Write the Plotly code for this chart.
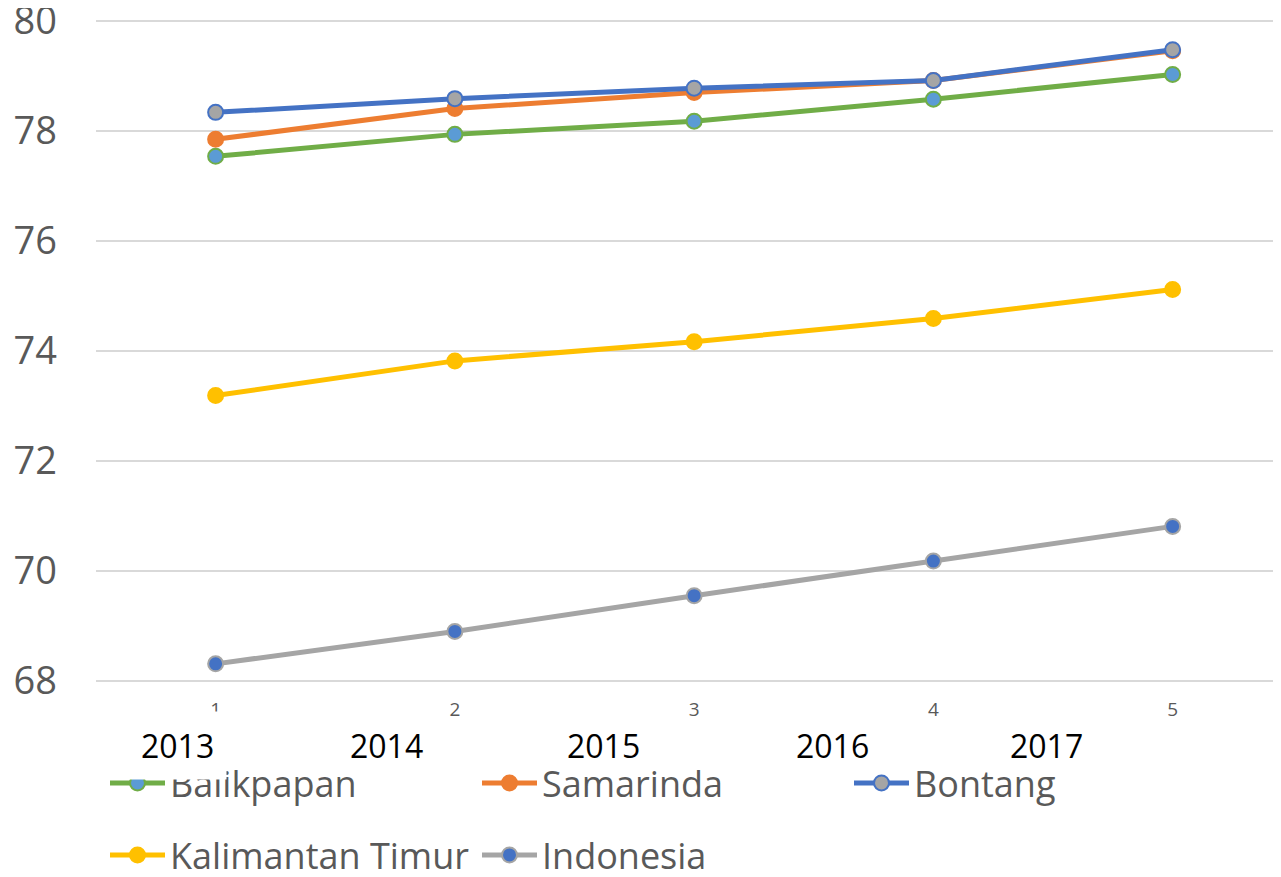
import plotly.graph_objects as go

# ---- data ----
x_index = [1, 2, 3, 4, 5]
tick_labels = ["1", "2", "3", "4", "5"]
years = ["2013", "2014", "2015", "2016", "2017"]
year_label_paper_x = [0.0687, 0.2439, 0.4258, 0.617, 0.797]

series_names = ["Balikpapan", "Samarinda", "Bontang", "Kalimantan Timur", "Indonesia"]
balikpapan = [77.54, 77.94, 78.18, 78.58, 79.03]
samarinda = [77.85, 78.41, 78.70, 78.92, 79.46]
bontang = [78.34, 78.59, 78.78, 78.92, 79.48]
kaltim = [73.19, 73.82, 74.17, 74.59, 75.12]
indonesia = [68.31, 68.90, 69.55, 70.18, 70.81]

values = [balikpapan, samarinda, bontang, kaltim, indonesia]
line_colors = ["#70AD47", "#ED7D31", "#4472C4", "#FFC000", "#A5A5A5"]
marker_fill = ["#5B9BD5", "#ED7D31", "#A5A5A5", "#FFC000", "#4472C4"]
marker_edge = ["#70AD47", "#ED7D31", "#4472C4", "#FFC000", "#A5A5A5"]
legend_ids = ["legend", "legend", "legend", "legend2", "legend2"]

W, H = 1289, 885
L, T, B = 88, 11.6, 211.2
R = 0
plot_h = H - T - B
plot_w = W - L - R

fig = go.Figure()
for name, vals, lc, mf, me, lg in zip(series_names, values, line_colors,
                                      marker_fill, marker_edge, legend_ids):
    fig.add_trace(go.Scatter(
        x=x_index, y=vals, name=name, mode="lines+markers",
        line=dict(color=lc, width=5),
        marker=dict(size=15, color=mf, line=dict(color=me, width=2)),
        legend=lg,
    ))

for i, (yr, px) in enumerate(zip(years, year_label_paper_x)):
    fig.add_annotation(
        x=px * 1193 / plot_w, y=(H - B - 737) / plot_h, xref="paper", yref="paper",
        text=yr, showarrow=False, xanchor="center", yanchor="middle",
        font=dict(family="Open Sans", size=32, color="#000000"),
        bgcolor="#FFFFFF", borderpad=12 if i == 0 else 2,
    )

legend_font = dict(family="Open Sans", size=36, color="#595959")
fig.update_layout(
    width=W, height=H,
    margin=dict(l=L, r=R, t=T, b=B, autoexpand=False),
    paper_bgcolor="#FFFFFF", plot_bgcolor="#FFFFFF",
    showlegend=True,
    xaxis=dict(
        range=[0.5, 0.5 + plot_w / 239.25], tickmode="array", tickvals=x_index,
        ticktext=tick_labels,
        showgrid=False, zeroline=False, showline=False, ticks="", automargin=False,
        tickfont=dict(family="Open Sans", size=19, color="#595959"),
        ticklabelstandoff=14, ticklabeloverflow="allow",
    ),
    yaxis=dict(
        range=[67.98, 80.02], dtick=2, tick0=68, automargin=False,
        showgrid=True, gridcolor="#D9D9D9", gridwidth=1.5,
        zeroline=False, showline=False, ticks="",
        tickfont=dict(family="Open Sans", size=38, color="#595959"),
        ticklabelstandoff=38, ticklabeloverflow="allow",
    ),
    legend=dict(
        orientation="h", xref="container", yref="container",
        x=97 / W, y=1 - 745 / H, xanchor="left", yanchor="top",
        entrywidth=302, entrywidthmode="pixels", itemwidth=55,
        font=legend_font, bgcolor="rgba(0,0,0,0)",
    ),
    legend2=dict(
        orientation="h", xref="container", yref="container",
        x=97 / W, y=1 - 817 / H, xanchor="left", yanchor="top",
        entrywidth=302, entrywidthmode="pixels", itemwidth=55,
        font=legend_font, bgcolor="rgba(0,0,0,0)",
    ),
)

fig.write_html("out.html")
